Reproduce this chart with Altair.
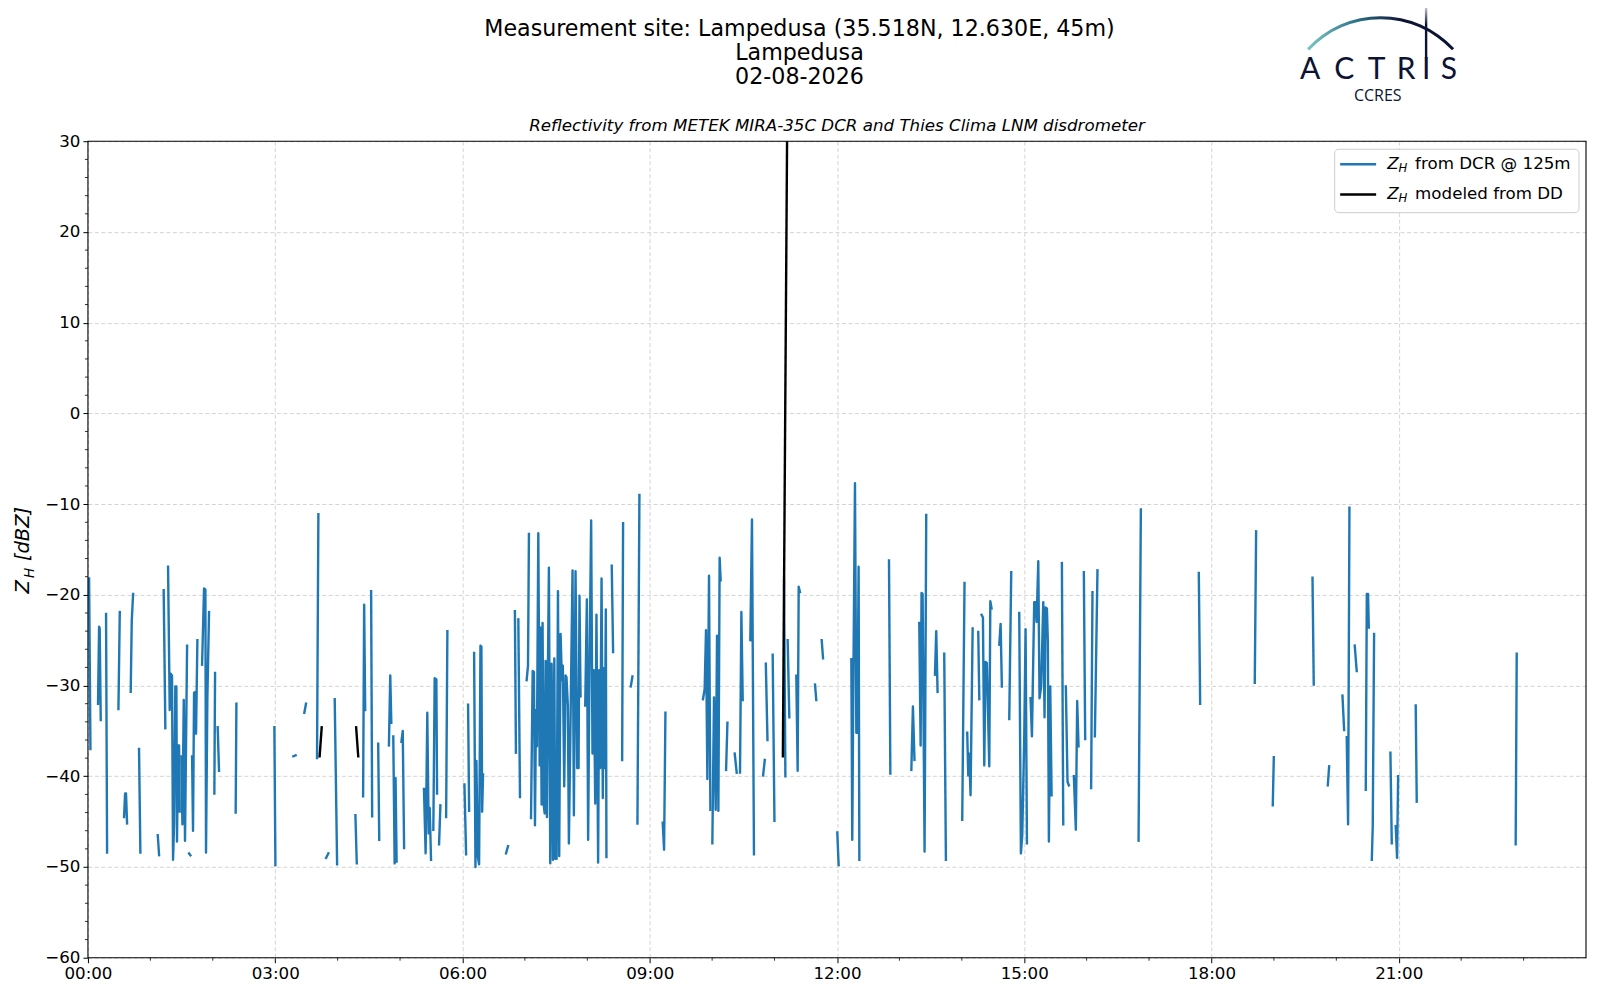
import altair as alt
import pandas as pd

# ---------------- data (time in minutes after 00:00 UTC, Z_H in dBZ; None = data gap)
dcr_time_min = [
    1.1, 2.4, None,
    9.7, 10.7, 11.3, 12.3, None,
    17.4, 18.4, None,
    29.3, 30.6, None,
    34.7, 35.7, 36.6, 37.6, None,
    41.1, 42.1, 43.4, None,
    49.1, 50.4, None,
    67.1, 68.4, None,
    72.8, 74.4, None,
    77.0, 78.6, 79.6, 80.8, 81.8, 82.8, 84.0, 85.0, 85.6, 86.6, 87.6, 88.2, None,
    89.8, 90.8, 92.1, 93.3, 95.3, None,
    97.2, 98.5, None,
    100.1, 101.0, 102.0, 103.3, 103.9, 105.2, None,
    109.7, 111.6, 112.9, 113.5, 114.8, 116.4, None,
    121.5, 122.2, None,
    124.7, 126.0, None,
    142.0, 142.7, None,
    179.2, 180.2, None,
    197.4, 199.6, None,
    208.0, 209.6, None,
    220.2, 221.5, None,
    228.9, 231.1, None,
    237.2, 239.5, None,
    257.1, 258.4, None,
    264.5, 265.5, 266.5, None,
    272.2, 273.2, None,
    279.0, 280.0, None,
    289.3, 290.6, 291.6, None,
    293.5, 294.8, 295.7, 296.7, None,
    301.3, 302.6, 303.9, None,
    323.0, 324.6, 326.2, 327.5, 328.5, 329.8, None,
    332.0, 333.3, 334.9, 335.6, None,
    337.5, 338.8, None,
    344.3, 345.5, None,
    361.9, 363.5, None,
    365.4, 366.4, None,
    371.2, 372.5, 373.4, 374.7, 376.0, 377.3, 378.2, 378.9, 379.8, None,
    401.9, 403.8, None,
    410.4, 411.4, None,
    413.7, 415.3, None,
    421.7, 423.0, 423.9, None,
    425.9, 427.5, 428.7, 429.7, 430.7, 431.6, 432.9, 434.2, 434.8, 436.1,
    437.0, 438.0, 439.0, 439.9, 441.2, 442.2, 443.1, 444.4, 445.7, 447.0,
    448.3, 449.2, 450.5, 451.8, 453.0, 454.3, 455.6, 456.5, 457.8, 459.1,
    460.0, 461.3, 462.3, 463.6, 465.8, 467.1, 468.7, 470.3, 471.6, 472.5,
    473.5, None,
    478.0, 479.6, 480.8, 482.1, 483.7, 485.0, 486.3, 487.6, 488.8, 490.4,
    491.4, 492.4, 493.7, 494.9, 495.9, 496.8, 497.8, 498.4, None,
    503.5, 504.8, None,
    513.5, 514.4, None,
    521.8, 523.4, None,
    528.2, 530.1, None,
    552.5, 553.8, 555.1, None,
    591.2, 592.8, 594.1, 595.4, 597.0, 598.3, None,
    600.2, 601.8, 603.4, 604.7, 606.0, 607.2, 608.2, None,
    613.4, 614.7, None,
    621.7, 623.6, None,
    626.8, 628.1, 629.4, None,
    636.7, 638.3, 640.2, None,
    649.0, 650.6, None,
    651.6, 653.2, None,
    658.2, 659.9, None,
    669.1, 670.4, None,
    672.6, 674.2, None,
    680.9, 682.2, 683.2, 684.4, None,
    698.9, 700.1, None,
    705.3, 706.6, None,
    720.3, 721.6, None,
    733.8, 734.7, 735.7, 737.3, 738.6, 739.6, 740.8, 741.5, None,
    770.0, 771.3, None,
    791.5, 793.0, 794.5, None,
    799.1, 800.4, 801.3, 802.3, 804.2, 805.8, None,
    814.2, 815.4, 816.7, None,
    823.1, 824.7, None,
    840.4, 842.6, None,
    845.2, 846.2, 847.1, 848.4, 850.4, None,
    855.8, 856.8, None,
    859.0, 860.3, 861.6, 862.8, 864.1, 866.4, 867.4, 868.6, None,
    876.0, 877.3, 878.5, None,
    885.6, 887.5, None,
    895.2, 896.8, 898.1, 900.0, 901.3, 902.6, None,
    906.1, 907.4, 909.6, 910.9, 911.9, 913.5, 914.7, 916.3, 918.3, 919.5,
    920.5, 921.8, 922.7, 923.7, 925.0, 926.3, None,
    936.2, 937.5, None,
    940.0, 941.6, 942.9, None,
    947.7, 949.6, 950.9, 952.2, None,
    957.3, 958.6, None,
    964.3, 965.6, None,
    967.9, 970.4, None,
    1009.9, 1012.1, None,
    1067.8, 1069.1, None,
    1121.6, 1122.9, None,
    1138.9, 1139.9, None,
    1177.1, 1178.3, None,
    1191.8, 1193.1, None,
    1205.9, 1207.5, None,
    1210.0, 1211.3, 1212.6, None,
    1217.7, 1219.6, None,
    1228.3, 1229.3, 1230.5, 1231.2, None,
    1234.1, 1235.0, 1236.3, None,
    1252.0, 1253.3, None,
    1257.1, 1258.4, 1259.4, None,
    1276.3, 1277.3, None,
    1372.4, 1373.4,
]

dcr_zh = [
    -18.2, -37.0, None,
    -32.0, -23.5, -23.7, -33.8, None,
    -22.1, -48.4, None,
    -32.6, -21.9, None,
    -44.5, -41.9, -41.9, -45.2, None,
    -30.7, -22.9, -19.9, None,
    -37.0, -48.4, None,
    -46.5, -48.7, None,
    -19.5, -34.7, None,
    -16.9, -32.7, -28.7, -28.9, -49.2, -45.2, -30.1, -30.1, -47.2, -36.6, -36.6, -43.9, None,
    -37.8, -45.3, -31.6, -47.1, -25.6, None,
    -48.5, -48.7, None,
    -37.8, -46.0, -30.8, -30.7, -35.3, -25.0, None,
    -27.7, -19.3, -19.4, -48.4, -31.3, -21.9, None,
    -41.9, -28.6, None,
    -34.6, -39.4, None,
    -44.0, -32.0, None,
    -34.6, -49.8, None,
    -37.8, -37.7, None,
    -33.0, -32.0, None,
    -38.0, -11.1, None,
    -49.0, -48.5, None,
    -31.5, -49.7, None,
    -44.3, -49.6, None,
    -42.2, -21.1, -32.7, None,
    -19.6, -44.4, None,
    -36.4, -47.0, None,
    -36.6, -28.9, -34.1, None,
    -35.6, -49.6, -40.2, -49.4, None,
    -36.2, -35.0, -47.9, None,
    -41.4, -48.5, -33.0, -46.3, -43.5, -49.2, None,
    -45.9, -29.2, -29.3, -41.9, None,
    -47.5, -43.2, None,
    -44.5, -24.0, None,
    -40.9, -48.6, None,
    -32.1, -43.8, None,
    -26.4, -50.0, -38.3, -48.8, -49.7, -25.6, -25.7, -43.9, -39.8, None,
    -48.5, -47.7, None,
    -21.8, -37.4, None,
    -22.7, -42.3, None,
    -29.4, -27.8, -13.3, None,
    -44.6, -28.4, -28.5, -45.4, -32.7, -36.7, -13.2, -38.8, -23.6, -43.1,
    -23.1, -43.0, -44.1, -27.3, -44.5, -27.4, -17.0, -49.6, -27.6, -49.2,
    -27.0, -49.1, -49.1, -19.6, -48.8, -24.3, -29.4, -27.8, -41.1, -28.9,
    -29.1, -32.2, -47.4, -36.4, -17.3, -44.3, -17.4, -39.1, -39.1, -20.1,
    -31.2, None,
    -32.2, -20.5, -47.0, -28.2, -11.8, -37.5, -28.3, -43.0, -22.2, -49.5,
    -28.3, -39.1, -18.2, -42.4, -28.1, -39.1, -21.6, -48.9, None,
    -16.8, -26.3, None,
    -38.2, -12.1, None,
    -30.1, -29.0, None,
    -45.2, -9.0, None,
    -45.1, -48.1, -33.0, None,
    -31.5, -30.4, -23.9, -40.3, -17.9, -43.7, None,
    -47.4, -31.3, -43.7, -24.5, -43.8, -15.9, -18.4, None,
    -39.3, -34.1, None,
    -37.5, -39.6, None,
    -39.6, -21.9, -31.6, None,
    -25.0, -11.7, -48.6, None,
    -39.9, -38.2, None,
    -27.6, -36.0, None,
    -26.6, -44.9, None,
    -18.4, -40.0, None,
    -25.0, -33.5, None,
    -28.9, -39.4, -19.1, -19.7, None,
    -29.9, -31.6, None,
    -25.0, -27.0, None,
    -46.2, -49.8, None,
    -27.1, -47.0, -30.3, -7.7, -35.2, -35.2, -16.9, -49.2, None,
    -16.2, -39.7, None,
    -39.3, -32.3, -38.2, None,
    -23.1, -36.6, -19.8, -19.9, -48.3, -11.2, None,
    -28.8, -24.0, -30.7, None,
    -26.5, -49.2, None,
    -44.8, -18.7, None,
    -35.2, -39.9, -37.5, -42.1, -23.7, None,
    -24.1, -31.5, None,
    -22.2, -22.5, -38.8, -27.4, -27.5, -38.9, -20.7, -21.5, None,
    -25.5, -23.2, -30.1, None,
    -33.7, -17.5, None,
    -22.0, -48.5, -46.5, -35.8, -23.8, -47.4, None,
    -31.4, -35.6, -20.8, -20.8, -23.0, -16.3, -31.4, -30.1, -20.8, -33.5,
    -21.4, -21.5, -25.2, -47.2, -30.1, -42.1, None,
    -16.5, -45.3, None,
    -30.1, -40.6, -41.0, None,
    -40.0, -45.9, -31.7, -36.7, None,
    -17.5, -35.9, None,
    -41.3, -19.7, None,
    -35.6, -17.3, None,
    -47.1, -10.6, None,
    -17.6, -32.0, None,
    -29.7, -13.0, None,
    -43.2, -37.9, None,
    -18.1, -29.9, None,
    -41.0, -38.9, None,
    -31.1, -34.9, None,
    -35.7, -45.3, -10.4, None,
    -25.6, -28.4, None,
    -41.5, -19.9, -19.9, -23.6, None,
    -49.2, -45.5, -24.3, None,
    -37.4, -47.4, None,
    -45.5, -49.0, -40.0, None,
    -32.2, -42.8, None,
    -47.5, -26.5,
]

dd_time_min = [222.7, 224.7, None, 257.8, 259.8, None, 668.0, 672.5]
dd_zh = [-37.8, -34.6, None, -34.6, -37.8, None, -37.8, 38.0]

x_tick_hours = [0, 3, 6, 9, 12, 15, 18, 21]
x_minor_hours = [1, 2, 4, 5, 7, 8, 10, 11, 13, 14, 16, 17, 19, 20, 22, 23]
y_ticks = [-60, -50, -40, -30, -20, -10, 0, 10, 20, 30]
y_minor = [v for v in range(-58, 30, 2) if v % 10 != 0]

title_lines = ["Measurement site: Lampedusa (35.518N, 12.630E, 45m)", "Lampedusa", "02-08-2026"]
subtitle = "Reflectivity from METEK MIRA-35C DCR and Thies Clima LNM disdrometer"
legend_rest = ["from DCR @ 125m", "modeled from DD"]
legend_colors = ["#1f77b4", "#000000"]


def to_frame(times, values, name):
    if len(times) != len(values):
        raise ValueError("length mismatch %d %d" % (len(times), len(values)))
    rows, seg = [], 0
    for t, v in zip(times, values):
        if (t is None) != (v is None):
            raise ValueError("gap mismatch")
        if t is None:
            seg += 1
            continue
        rows.append({"hour": t / 60.0, "zh": v, "seg": "%s%d" % (name, seg)})
    return pd.DataFrame(rows)


dcr_df = to_frame(dcr_time_min, dcr_zh, "dcr")
dd_df = to_frame(dd_time_min, dd_zh, "dd")

W, H = 1499, 817
FONT = "DejaVu Sans"
NAVY = "#0d1333"
LW = 2.4

x_scale = alt.Scale(domain=[0, 24], nice=False, zero=False)
y_scale = alt.Scale(domain=[-60, 30], nice=False, zero=False)

x_axis = alt.Axis(values=x_tick_hours, title="", grid=True, gridDash=[4, 2.5], gridColor="#cfcfcf",
                  gridWidth=0.9, domain=False, tickSize=5, tickColor="black", tickWidth=1,
                  labelFont=FONT, labelFontSize=16.7, labelColor="black", labelPadding=3,
                  labelExpr="(datum.value < 10 ? '0' : '') + datum.value + ':00'", labelFlush=False)
y_axis = alt.Axis(values=y_ticks, title="", grid=True, gridDash=[4, 2.5], gridColor="#cfcfcf",
                  gridWidth=0.9, domain=False, tickSize=5, tickColor="black", tickWidth=1,
                  labelFont=FONT, labelFontSize=16.7, labelColor="black", labelPadding=3,
                  format="d", labelFlush=False)

X = alt.X("hour:Q", scale=x_scale, axis=x_axis)
Y = alt.Y("zh:Q", scale=y_scale, axis=y_axis)

dcr_line = alt.Chart(dcr_df).mark_line(color="#1f77b4", strokeWidth=LW, clip=True,
                                        strokeCap="square", strokeJoin="round").encode(
    x=X, y=Y, detail="seg:N", order="hour:Q")
dd_line = alt.Chart(dd_df).mark_line(color="black", strokeWidth=LW, clip=True,
                                      strokeCap="square", strokeJoin="round").encode(
    x=X, y=Y, detail="seg:N", order="hour:Q")

ymin_df = pd.DataFrame({"zh": y_minor})
xmin_df = pd.DataFrame({"hour": x_minor_hours})
y_minor_ticks = alt.Chart(ymin_df).mark_rule(color="black", strokeWidth=0.8).encode(
    y=Y, x=alt.value(0), x2=alt.value(-3))
x_minor_ticks = alt.Chart(xmin_df).mark_rule(color="black", strokeWidth=0.8).encode(
    x=X, y=alt.value(H), y2=alt.value(H + 3))

one = pd.DataFrame({"k": [0]})

# plot frame drawn above the grid
frame = alt.Chart(one).mark_rect(fillOpacity=0, stroke="black", strokeWidth=1.1).encode(
    x=alt.value(0), x2=alt.value(W), y=alt.value(0), y2=alt.value(H))

# titles
texts = []
for line, yy in zip(title_lines, [-112.5, -88.5, -64.5]):
    texts.append(alt.Chart(one).mark_text(text=line, font=FONT, fontSize=22.2, color="black",
                                          align="center", baseline="middle").encode(
        x=alt.value(712), y=alt.value(yy)))
texts.append(alt.Chart(one).mark_text(text=subtitle, font=FONT, fontSize=16.7, fontStyle="italic",
                                      color="black", align="center", baseline="middle").encode(
    x=alt.value(W / 2), y=alt.value(-15)))

# y axis label: Z_H [dBZ]
texts.append(alt.Chart(one).mark_text(text="Z", font=FONT, fontSize=19.5, fontStyle="italic", color="black",
                                      align="center", baseline="middle", angle=270).encode(
    x=alt.value(-64.5), y=alt.value(446)))
texts.append(alt.Chart(one).mark_text(text="H", font=FONT, fontSize=13.5, fontStyle="italic", color="black",
                                      align="center", baseline="middle", angle=270).encode(
    x=alt.value(-58), y=alt.value(432)))
texts.append(alt.Chart(one).mark_text(text="[dBZ]", font=FONT, fontSize=19.5, fontStyle="italic", color="black",
                                      align="center", baseline="middle", angle=270).encode(
    x=alt.value(-64.5), y=alt.value(393)))

# legend
legend_box = alt.Chart(one).mark_rect(fill="white", fillOpacity=0.85, stroke="#cccccc", strokeWidth=1,
                                      cornerRadius=4).encode(
    x=alt.value(1247.5), x2=alt.value(1492), y=alt.value(8), y2=alt.value(71.5))
legend_layers = [legend_box]
for i, (rest, col) in enumerate(zip(legend_rest, legend_colors)):
    yy = 23 + i * 30.3
    legend_layers.append(alt.Chart(one).mark_rule(color=col, strokeWidth=LW).encode(
        x=alt.value(1253), x2=alt.value(1289), y=alt.value(yy)))
    legend_layers.append(alt.Chart(one).mark_text(text="Z", font=FONT, fontSize=16.7, fontStyle="italic",
                                                  color="black", align="left", baseline="middle").encode(
        x=alt.value(1300), y=alt.value(yy)))
    legend_layers.append(alt.Chart(one).mark_text(text="H", font=FONT, fontSize=11.7, fontStyle="italic",
                                                  color="black", align="left", baseline="middle").encode(
        x=alt.value(1311.5), y=alt.value(yy + 4)))
    legend_layers.append(alt.Chart(one).mark_text(text=rest, font=FONT, fontSize=16.7,
                                                  color="black", align="left", baseline="middle").encode(
        x=alt.value(1328), y=alt.value(yy)))

# ACTRIS logo (decoration)
logo_grad = alt.Gradient(gradient="linear", x1=0, x2=1, y1=0, y2=0,
                         stops=[alt.GradientStop(color="#7cc9c4", offset=0),
                                alt.GradientStop(color="#2a6f86", offset=0.35),
                                alt.GradientStop(color=NAVY, offset=0.65),
                                alt.GradientStop(color=NAVY, offset=1)])
logo_arc = alt.Chart(one).mark_arc(fill=logo_grad, innerRadius=97.5, outerRadius=100.5,
                                   theta=5.46, theta2=7.105).encode(
    x=alt.value(1293.5), y=alt.value(-24.6))
bar_grad = alt.Gradient(gradient="linear", x1=0, x2=0, y1=0, y2=1,
                        stops=[alt.GradientStop(color="#ffffff", offset=0),
                               alt.GradientStop(color=NAVY, offset=0.4),
                               alt.GradientStop(color=NAVY, offset=1)])
logo_bar = alt.Chart(one).mark_rect(fill=bar_grad).encode(
    x=alt.value(1337.8), x2=alt.value(1340.2), y=alt.value(-139), y2=alt.value(-83))
logo_letters = pd.DataFrame({"ch": list("ACTRIS"),
                             "px": [1223, 1257, 1289.5, 1319, 1339, 1361.7]})
logo_text = alt.Chart(logo_letters).mark_text(font="Lato", fontSize=30, color=NAVY,
                                              align="center", baseline="alphabetic").encode(
    x=alt.X("px:Q", scale=None), y=alt.value(-62.5), text="ch:N")
logo_ccres = alt.Chart(one).mark_text(text="CCRES", font="Open Sans", fontSize=16, color=NAVY,
                                      align="center", baseline="middle").encode(
    x=alt.value(1290.6), y=alt.value(-45.5))

chart = alt.layer(
    dcr_line, dd_line, frame, y_minor_ticks, x_minor_ticks, *texts, *legend_layers,
    logo_arc, logo_bar, logo_text, logo_ccres
).properties(
    width=W, height=H,
    autosize=alt.AutoSizeParams(type="none"),
    padding={"left": 80, "top": 133, "right": 6, "bottom": 40},
    background="white",
).configure_view(stroke=None)

chart.save("out.html", embed_options={"renderer": "svg", "actions": False})
